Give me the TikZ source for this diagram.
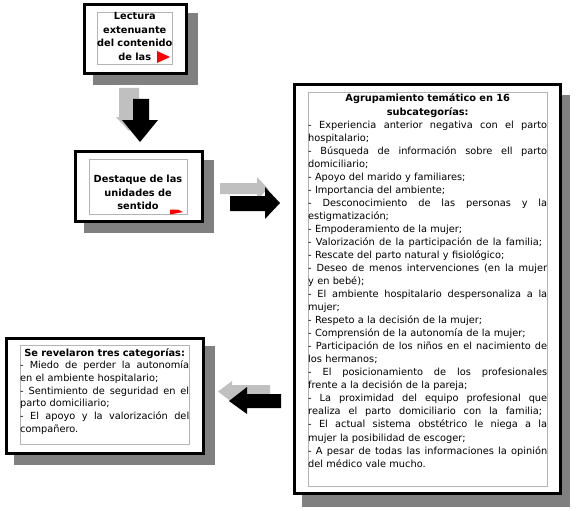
\documentclass[tikz,border=0pt]{standalone}
\usepackage{fontspec}
\setmainfont{DejaVu Sans}
\definecolor{shadowgray}{HTML}{808080}
\definecolor{arrowgray}{HTML}{C0C0C0}
\definecolor{rulegray}{HTML}{B4B4B4}
\newcommand{\fullline}[2][\linewidth]{\makebox[#1][s]{\spaceskip=0pt\xspaceskip=0pt #2}}
\tikzset{
  boxshadow/.style={fill=shadowgray},
  boxframe/.style={draw=black, line width=3pt, fill=white},
  boxrule/.style={draw=rulegray, line width=0.7pt},
  boldtext/.style={inner sep=0pt, align=center, font=\fontsize{9.8}{13.4}\selectfont\bfseries},
  bodytext/.style={inner sep=0pt, align=left, font=\fontsize{9.8}{13.04}\selectfont},
}
\begin{document}
\begin{tikzpicture}[x=1pt, y=-1pt]
  \useasboundingbox (0,0) rectangle (576,511);

  % lectura
  \fill[boxshadow] (93,13) rectangle (198,85);
  \draw[boxframe] (84.5,4.5) rectangle (186.5,73.5);
  \draw[boxrule] (97,12) rectangle (172.5,64.5);
  \node[boldtext, text width=82pt, anchor=base] (lectura) at (134.8,20)
    {Lectura\\extenuante\\del contenido\\de las};
  \fill[red] (157,51) -- (170,57) -- (157,63) -- cycle;

  % destaque
  \fill[boxshadow] (84,160) rectangle (214,233);
  \draw[boxframe] (75.5,151.5) rectangle (202.5,221.5);
  \draw[boxrule] (89,159) rectangle (187,214);
  \node[boldtext, text width=98pt, anchor=base] (destaque) at (138,182.8)
    {Destaque de las\\unidades de\\sentido};
  \fill[red] (170,209.5) -- (178,209.5) -- (183,212) -- (170,214.5) -- cycle;

  % agrupamiento
  \fill[boxshadow] (302,95) rectangle (570,507);
  \draw[boxframe] (294.5,84.5) rectangle (560.5,493.5);
  \draw[boxrule] (308,92) rectangle (547,486);
  \node[bodytext, text width=239pt, anchor=base west] (agrupamiento) at (308,102) {%
    \makebox[\linewidth]{\bfseries Agrupamiento temático en 16}\\
    \makebox[\linewidth]{\bfseries subcategorías:}\\
    \fullline{- Experiencia anterior negativa con el parto}\\
    hospitalario;\\
    \fullline{- Búsqueda de información sobre ell parto}\\
    domiciliario;\\
    - Apoyo del marido y familiares;\\
    - Importancia del ambiente;\\
    \fullline{- Desconocimiento de las personas y la}\\
    estigmatización;\\
    - Empoderamiento de la mujer;\\
    \fullline[234pt]{- Valorización de la participación de la familia;}\\
    - Rescate del parto natural y fisiológico;\\
    \fullline{- Deseo de menos intervenciones (en la mujer}\\
    y en bebé);\\
    \fullline{- El ambiente hospitalario despersonaliza a la}\\
    mujer;\\
    - Respeto a la decisión de la mujer;\\
    - Comprensión de la autonomía de la mujer;\\
    \fullline{- Participación de los niños en el nacimiento de}\\
    los hermanos;\\
    \fullline{- El posicionamiento de los profesionales}\\
    frente a la decisión de la pareja;\\
    \fullline{- La proximidad del equipo profesional que}\\
    \fullline[234pt]{realiza el parto domiciliario con la familia;}\\
    \fullline{- El actual sistema obstétrico le niega a la}\\
    mujer la posibilidad de escoger;\\
    \fullline{- A pesar de todas las informaciones la opinión}\\
    del médico vale mucho.};

  % categorias
  \fill[boxshadow] (14,346) rectangle (215,465);
  \draw[boxframe] (6.5,338.5) rectangle (203.5,453.5);
  \draw[boxrule] (20,345) rectangle (189,444);
  \node[bodytext, text width=169pt, anchor=base west, font=\fontsize{9.8}{12.7}\selectfont] (categorias) at (20,356) {%
    \makebox[\linewidth]{\bfseries Se revelaron tres categorías:}\\
    \fullline{- Miedo de perder la autonomía}\\
    en el ambiente hospitalario;\\
    \fullline{- Sentimiento de seguridad en el}\\
    parto domiciliario;\\
    \fullline{- El apoyo y la valorización del}\\
    compañero.};

  % arrows
  \fill[arrowgray] (119,88) -- (139,88) -- (139,117) -- (142,117) -- (129,131) -- (116,117) -- (119,117) -- cycle;
  \fill[black] (133,99) -- (149,99) -- (149,120) -- (158,120) -- (140,142) -- (122,120) -- (133,120) -- cycle;

  \fill[arrowgray] (220,183) -- (257,183) -- (257,177) -- (268,188.5) -- (257,200) -- (257,194) -- (220,194) -- cycle;
  \fill[black] (230,196) -- (265,196) -- (265,187) -- (280,203) -- (265,219) -- (265,211) -- (230,211) -- cycle;

  \fill[arrowgray] (270,385) -- (232,385) -- (232,381) -- (218,391.5) -- (232,402) -- (232,398) -- (270,398) -- cycle;
  \fill[black] (281,394) -- (247,394) -- (247,387) -- (229,401) -- (247,414) -- (247,408) -- (281,408) -- cycle;
\end{tikzpicture}
\end{document}
